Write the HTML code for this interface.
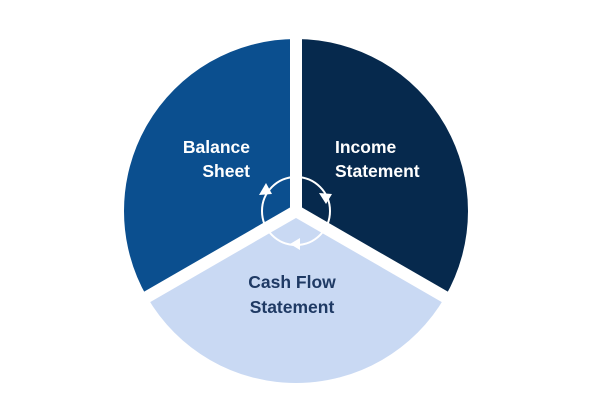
<!DOCTYPE html>
<html><head><style>body{margin:0;background:#fff}svg{display:block}</style></head><body>
<svg width="612" height="408" viewBox="0 0 612 408" xmlns="http://www.w3.org/2000/svg">
<g transform="translate(296,211)">
<path d="M0,0 L0,-172 A172,172 0 0 1 148.96,86 Z" fill="#06294d"/>
<path d="M0,0 L148.96,86 A172,172 0 0 1 -148.96,86 Z" fill="#c9d9f3"/>
<path d="M0,0 L-148.96,86 A172,172 0 0 1 0,-172 Z" fill="#0b4f8f"/>
<g stroke="#fff" stroke-width="12">
<line x1="0" y1="0" x2="0" y2="-180"/>
<line x1="0" y1="0" x2="156" y2="90"/>
<line x1="0" y1="0" x2="-156" y2="90"/>
</g>
<circle cx="0" cy="0" r="34" fill="none" stroke="#fff" stroke-width="2"/>
<polygon points="-30,-28 -37,-16 -24,-17" fill="#fff"/>
<polygon points="30,-7 23,-18 36,-17" fill="#fff"/>
<polygon points="-6,33 4,27 4,39" fill="#fff"/>
</g>
<g font-family="Liberation Sans, sans-serif" font-weight="bold" font-size="17.5">
<text x="250" y="153" fill="#fff" text-anchor="end">Balance</text>
<text x="250" y="177" fill="#fff" text-anchor="end">Sheet</text>
<text x="335" y="153" fill="#fff">Income</text>
<text x="335" y="177" fill="#fff">Statement</text>
<text x="292" y="288" fill="#1f3a64" text-anchor="middle">Cash Flow</text>
<text x="292" y="313" fill="#1f3a64" text-anchor="middle">Statement</text>
</g>
</svg>
</body></html>
